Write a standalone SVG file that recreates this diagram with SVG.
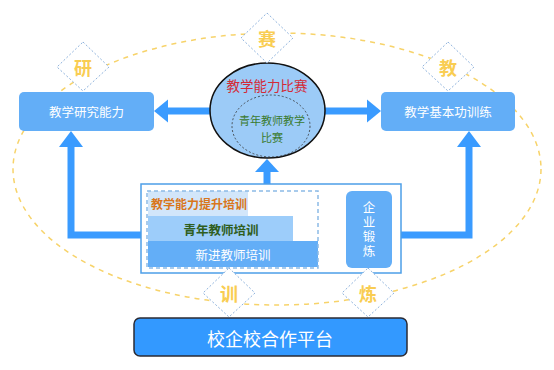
<svg xmlns="http://www.w3.org/2000/svg" width="554" height="370" viewBox="0 0 554 370">
<defs>
<style>
.cjk{font-family:"Noto Sans CJK SC","Noto Sans",sans-serif;}
.box{fill:#63aef7;}
.wt{fill:#ffffff;font-size:12.5px;text-anchor:middle;dominant-baseline:central;}
.dia{fill:#ffffff;stroke:#8fb3dd;stroke-width:1;stroke-dasharray:2 2;}
.dl{fill:#f9cd52;font-size:18px;font-weight:bold;text-anchor:middle;dominant-baseline:central;}
.arr{fill:#3a9bff;}
.ln{stroke:#3a9bff;stroke-width:7;fill:none;}
</style>
</defs>
<rect width="554" height="370" fill="#ffffff"/>
<ellipse cx="277" cy="169" rx="264" ry="136" fill="none" stroke="#f7d36a" stroke-width="1.5" stroke-dasharray="5 5"/>

<g id="connectors">
<line class="ln" x1="212" y1="111" x2="167" y2="111"/>
<polygon class="arr" points="154,111 168,99.5 168,122.5"/>
<line class="ln" x1="324" y1="111" x2="370" y2="111"/>
<polygon class="arr" points="381,111 367,99.5 367,122.5"/>
<line class="ln" x1="267" y1="185" x2="267" y2="170"/>
<polygon class="arr" points="267,159 255,172 279,172"/>
<polyline class="ln" points="141,235 71,235 71,145"/>
<polygon class="arr" points="71,131 59,147 83,147"/>
<polyline class="ln" points="401,235 469,235 469,145"/>
<polygon class="arr" points="469,131 457,147 481,147"/>
</g>

<g id="node-research">
<rect class="box" x="19" y="92" width="135" height="39" rx="5"/>
<text class="cjk wt" x="86.5" y="111.5">教学研究能力</text>
</g>
<g id="node-basic">
<rect class="box" x="381" y="92" width="134" height="39" rx="5"/>
<text class="cjk wt" x="448" y="111.5">教学基本功训练</text>
</g>

<g id="node-competition">
<ellipse cx="267.5" cy="110.5" rx="57.5" ry="47.5" fill="#9ccbf7" stroke="#111111" stroke-width="1.5"/>
<ellipse cx="271" cy="126" rx="39" ry="31" fill="none" stroke="#333333" stroke-width="0.8" stroke-dasharray="2 2"/>
<text class="cjk" x="267" y="85" fill="#d42a36" font-size="13.5" text-anchor="middle" dominant-baseline="central">教学能力比赛</text>
<text class="cjk" x="272" y="119.5" fill="#3a7a2e" font-size="11" text-anchor="middle" dominant-baseline="central">青年教师教学</text>
<text class="cjk" x="272" y="136.5" fill="#3a7a2e" font-size="11" text-anchor="middle" dominant-baseline="central">比赛</text>
</g>

<g id="node-training">
<rect x="141" y="184" width="260" height="89" fill="#ffffff" stroke="#4d9fe8" stroke-width="1.5"/>
<rect x="148" y="241" width="170" height="26" fill="#63aef7"/>
<rect x="148" y="216" width="145" height="25" fill="#9dcdfa"/>
<rect x="148" y="191" width="100" height="25" fill="#d2e6fa"/>
<rect x="147" y="191" width="171" height="77" fill="none" stroke="#8cbbe6" stroke-width="1.5" stroke-dasharray="4 3"/>
<text class="cjk" x="151" y="203.5" fill="#d9761c" font-size="12" font-weight="bold" dominant-baseline="central">教学能力提升培训</text>
<text class="cjk" x="221" y="229" fill="#2f5e1e" font-size="12.5" font-weight="bold" text-anchor="middle" dominant-baseline="central">青年教师培训</text>
<text class="cjk wt" x="233" y="254.5">新进教师培训</text>
</g>

<g id="node-enterprise">
<rect class="box" x="346" y="191" width="46" height="77" rx="6"/>
<text class="cjk" x="369" y="230" fill="#ffffff" font-size="12.5" writing-mode="vertical-rl" text-anchor="middle" letter-spacing="2">企业锻炼</text>
</g>

<g id="node-platform">
<rect x="134" y="318" width="273" height="38" rx="6" fill="#3399ff" stroke="#2b2b35" stroke-width="1.5"/>
<text class="cjk" x="270" y="337.5" fill="#ffffff" font-size="18" text-anchor="middle" dominant-baseline="central">校企校合作平台</text>
</g>

<g id="tag-yan">
<polygon class="dia" points="83,42 109,67 83,91 57,67"/>
<text class="cjk dl" x="83" y="67">研</text>
</g>
<g id="tag-sai">
<polygon class="dia" points="267,13 293,38 267,63 241,38"/>
<text class="cjk dl" x="267" y="38">赛</text>
</g>
<g id="tag-jiao">
<polygon class="dia" points="448,42 474,67 448,91 422,67"/>
<text class="cjk dl" x="448" y="67">教</text>
</g>
<g id="tag-xun">
<polygon class="dia" points="229,268 255,293 229,317 203,293"/>
<text class="cjk dl" x="229" y="293">训</text>
</g>
<g id="tag-lian">
<polygon class="dia" points="368,268 394,293 368,317 342,293"/>
<text class="cjk dl" x="368" y="293">炼</text>
</g>
</svg>
